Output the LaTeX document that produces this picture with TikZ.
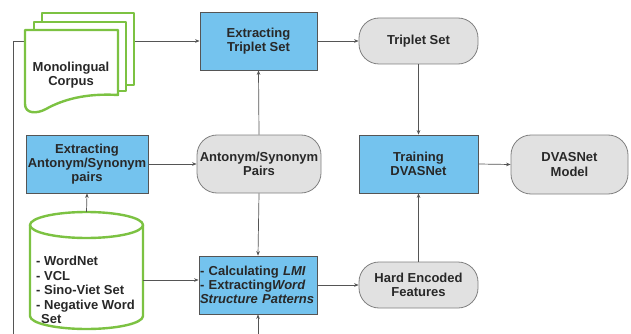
\documentclass[tikz,border=0pt]{standalone}
\usepackage{fontspec}
\setmainfont{Liberation Sans}
\usetikzlibrary{arrows.meta}
\definecolor{boxblue}{RGB}{116,195,238}
\definecolor{boxgray}{RGB}{225,225,225}
\definecolor{edgegray}{RGB}{128,128,128}
\definecolor{darkedge}{RGB}{85,85,85}
\definecolor{docgreen}{RGB}{124,194,66}
\definecolor{txt}{RGB}{40,40,40}
\tikzset{
  lbl/.style={font=\fontsize{13}{14.3}\selectfont\bfseries, text=txt, align=center, inner sep=1pt},
  bluebox/.style={lbl, draw=darkedge, fill=boxblue, line width=0.8pt},
  graybox/.style={lbl, draw=edgegray, fill=boxgray, line width=0.8pt, rounded corners=20pt},
  greenline/.style={draw=docgreen, line width=2.4pt, fill=white, line join=round},
  arr/.style={draw=darkedge, line width=0.7pt, -{Stealth[length=4.5pt,width=3.6pt]}},
}
\begin{document}
\begin{tikzpicture}[x=1pt,y=-1pt]
\useasboundingbox (0,0) rectangle (631,334);
\fill[white] (0,0) rectangle (631,334);

% nodes
\node[bluebox, minimum width=117pt, minimum height=58pt] (trip) at (258.5,41) {Extracting\\Triplet Set};
\node[graybox, minimum width=119pt, minimum height=46pt] (tset) at (418.5,41) {Triplet Set};
\node[bluebox, minimum width=119pt, minimum height=58pt] (train) at (418.5,164) {Training\\DVASNet};
\node[graybox, minimum width=117pt, minimum height=59pt] (model) at (569.5,164.5) {DVASNet\\Model};
\node[graybox, minimum width=119pt, minimum height=46pt] (hard) at (418.5,285) {Hard Encoded\\Features};
\node[bluebox, minimum width=118pt, minimum height=58pt, text width=116pt, align=left] (calc) at (258,285)
  {- Calculating \textit{LMI}\\- Extracting\textit{Word}\\\textit{Structure Patterns}};
\node[graybox, minimum width=124pt, minimum height=58pt] (pairs) at (259,164) {Antonym/Synonym\\Pairs};
\node[bluebox, minimum width=122pt, minimum height=58pt] (anto) at (87,164) {Extracting\\Antonym/Synonym\\pairs};

\coordinate (lb) at (13,334);

% connectors
\draw[arr] (lb) |- (trip.west);
\draw[arr] (trip.east) -- (tset.west);
\draw[arr] (tset.south) -- (train.north);
\draw[arr] (train.east) -- (model.west);
\draw[arr] (hard.north) -- (train.south);
\draw[arr] (calc.east) -- (hard.west);
\draw[arr] (pairs.north) -- (trip.south);
\draw[arr] (pairs.south) -- (calc.north);
\draw[arr] (anto.east) -- (pairs.west);
\draw[arr] (calc.south |- lb) -- (calc.south);

% monolingual corpus (stacked documents)
\path[greenline] (42,13) rectangle (134,85);
\path[greenline] (34,22) rectangle (126,91);
\path[greenline] (25,30) -- (118,30) -- (118,95)
  .. controls (85,93) and (62,100) .. (46,109)
  .. controls (37,114) and (25,114) .. (25,104) -- cycle;
\node[lbl] (doc) at (71,75) {Monolingual\\Corpus};

% database cylinder
\node[minimum width=113pt, minimum height=118pt, inner sep=0pt] (db) at (86.5,271) {};
\path[greenline] (30,225) -- (30,316) arc[start angle=180, end angle=0, x radius=56.5, y radius=13] -- (143,225) -- cycle;
\path[greenline] (86.5,225) ellipse [x radius=56.5, y radius=13];
\node[lbl, align=left, anchor=west, font=\fontsize{13}{14.5}\selectfont\bfseries] (dbtext) at (35,290)
  {- WordNet\\- VCL\\- Sino-Viet Set\\- Negative Word\\\hspace{5pt}Set};

\draw[arr] (db.north) -- (anto.south);
\coordinate (calcin) at ([yshift=5pt]calc.west);
\draw[arr] (db.east |- calcin) -- (calcin);
\end{tikzpicture}
\end{document}
